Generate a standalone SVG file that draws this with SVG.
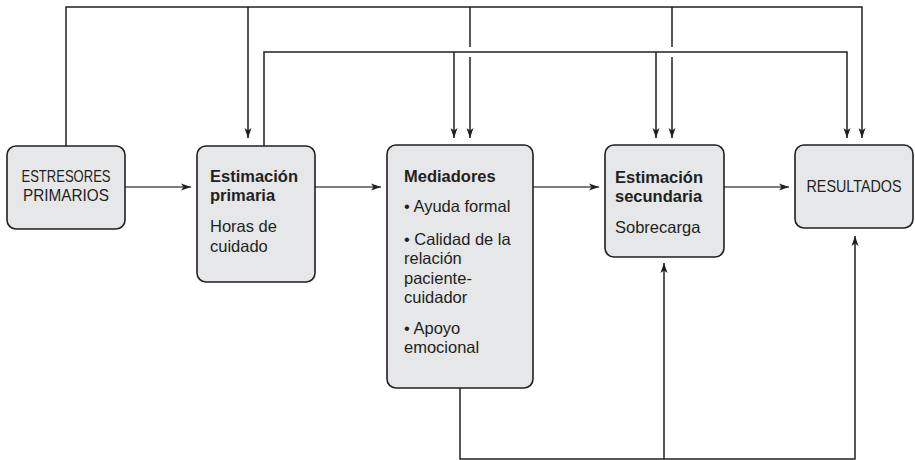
<svg xmlns="http://www.w3.org/2000/svg" width="915" height="460" viewBox="0 0 915 460">
<style>
.box{fill:#e6e7e8;stroke:#231f20;stroke-width:1.6}
.t{font-family:"Liberation Sans",Arial,sans-serif;font-size:16.5px;fill:#231f20}
.b{font-weight:bold}
.c{stroke:#231f20;stroke-width:1.5;fill:none}
.h{stroke:#555;stroke-width:1.5;fill:none}
</style>
<defs>
<marker id="ah" markerUnits="userSpaceOnUse" markerWidth="11" markerHeight="8" refX="10" refY="4" orient="auto">
<path d="M0,0.5 L10,4 L0,7.5 L2.5,4 z" fill="#231f20"/>
</marker>
</defs>
<rect width="915" height="460" fill="#fff"/>
<g id="connectors">
<path class="c" d="M66,146 V7 H862 V138" marker-end="url(#ah)"/>
<path class="c" d="M248,7 V138" marker-end="url(#ah)"/>
<path class="c" d="M470,7 V47"/>
<path class="c" d="M470,57 V138" marker-end="url(#ah)"/>
<path class="c" d="M672,7 V47"/>
<path class="c" d="M672,57 V138" marker-end="url(#ah)"/>
<path class="c" d="M264,146 V52 H847 V138" marker-end="url(#ah)"/>
<path class="c" d="M454,52 V138" marker-end="url(#ah)"/>
<path class="c" d="M656,52 V138" marker-end="url(#ah)"/>
<path class="h" d="M125,187 H191" marker-end="url(#ah)"/>
<path class="h" d="M315,187 H381" marker-end="url(#ah)"/>
<path class="h" d="M533,187 H599" marker-end="url(#ah)"/>
<path class="h" d="M724,187 H789" marker-end="url(#ah)"/>
<path class="c" d="M460,388 V459 H855 V236" marker-end="url(#ah)"/>
<path class="c" d="M664,459 V263" marker-end="url(#ah)"/>
</g>
<g id="estresores">
<rect class="box" x="7" y="146" width="118" height="83" rx="9"/>
<text class="t" x="66" y="182" text-anchor="middle" textLength="89" lengthAdjust="spacingAndGlyphs">ESTRESORES</text>
<text class="t" x="66" y="201" text-anchor="middle" textLength="86" lengthAdjust="spacingAndGlyphs">PRIMARIOS</text>
</g>
<g id="primaria">
<rect class="box" x="197" y="146" width="118" height="136" rx="9"/>
<text class="t b" x="210" y="182">Estimación</text>
<text class="t b" x="210" y="201">primaria</text>
<text class="t" x="210" y="232">Horas de</text>
<text class="t" x="210" y="252">cuidado</text>
</g>
<g id="mediadores">
<rect class="box" x="387" y="145" width="146" height="243" rx="9"/>
<text class="t b" x="404" y="182">Mediadores</text>
<text class="t" x="404" y="212">• Ayuda formal</text>
<text class="t" x="404" y="245">• Calidad de la</text>
<text class="t" x="404" y="264">relación</text>
<text class="t" x="404" y="284">paciente-</text>
<text class="t" x="404" y="303">cuidador</text>
<text class="t" x="404" y="334">• Apoyo</text>
<text class="t" x="404" y="353">emocional</text>
</g>
<g id="secundaria">
<rect class="box" x="605" y="145" width="119" height="112" rx="9"/>
<text class="t b" x="615" y="183">Estimación</text>
<text class="t b" x="615" y="202">secundaria</text>
<text class="t" x="615" y="233">Sobrecarga</text>
</g>
<g id="resultados">
<rect class="box" x="795" y="145" width="118" height="83" rx="9"/>
<text class="t" x="854" y="192" text-anchor="middle" textLength="95" lengthAdjust="spacingAndGlyphs">RESULTADOS</text>
</g>
</svg>
